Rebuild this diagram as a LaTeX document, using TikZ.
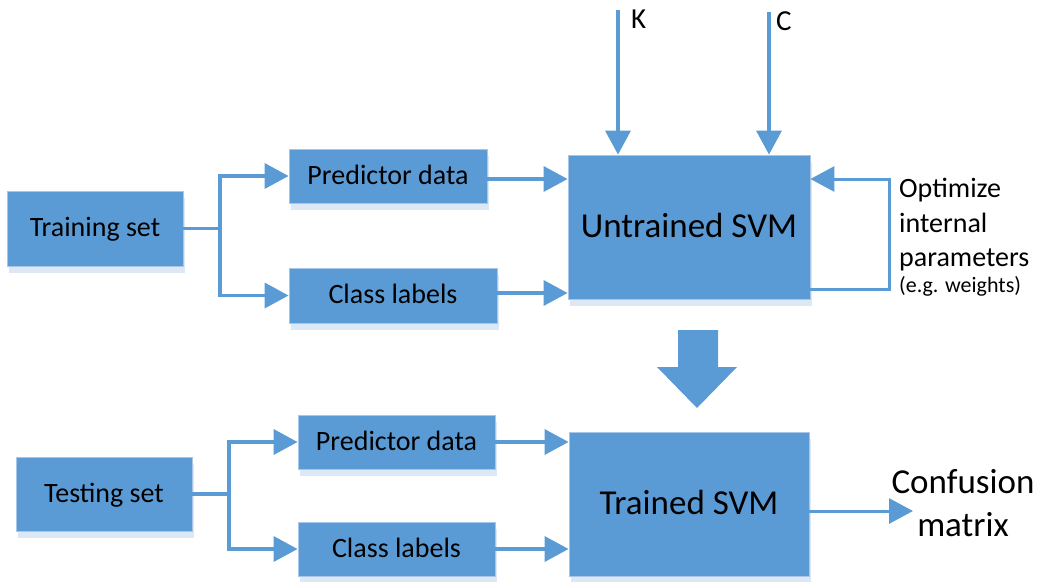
\documentclass[tikz,border=0pt]{standalone}
\usepackage{fontspec}
\setmainfont{Carlito}
\usetikzlibrary{arrows.meta,shadows}
\definecolor{boxblue}{HTML}{5B9BD5}
\definecolor{boxedge}{HTML}{A9C6E8}
\definecolor{shadowblue}{HTML}{DDE8F5}
\newcommand\fsz[1]{\fontsize{#1}{#1}\selectfont}
\begin{document}
\begin{tikzpicture}[x=1pt,y=-1pt,
  box/.style={rectangle, fill=boxblue, draw=boxedge, line width=0.8pt, inner sep=0pt,
    general shadow={fill=shadowblue, shadow xshift=2pt, shadow yshift=-7pt}},
  smallbox/.style={box, font=\fsz{28}, text height=17pt, text depth=1pt},
  bigbox/.style={box, font=\fsz{35}, text height=21.5pt, text depth=1.2pt},
  arr/.style={draw=boxblue, line width=3.5pt, -{Triangle[length=24pt,width=25pt]}},
  thinarr/.style={draw=boxblue, line width=3pt, -{Triangle[length=24pt,width=25pt]}},
  plain/.style={draw=boxblue, line width=3.5pt},
  lbl/.style={inner sep=0pt, anchor=base west}]
\useasboundingbox (0,0) rectangle (1041,581);
% boxes
\node[smallbox, minimum width=176pt, minimum height=75pt] (train) at (95,228.5) {Training set};
\node[smallbox, minimum width=198pt, minimum height=54pt] (tpred) at (388,176) {Predictor data};
\node[smallbox, minimum width=208pt, minimum height=55pt] (tclass) at (393,295.5) {Class labels};
\node[bigbox, minimum width=242pt, minimum height=144pt] (untr) at (689,227) {Untrained SVM};
\node[smallbox, minimum width=176pt, minimum height=74pt] (test) at (104,494) {Testing set};
\node[smallbox, minimum width=197pt, minimum height=54pt] (bpred) at (396.5,442) {Predictor data};
\node[smallbox, minimum width=197pt, minimum height=54pt] (bclass) at (396.5,549) {Class labels};
\node[bigbox, minimum width=240pt, minimum height=144pt] (trained) at (689,504) {Trained SVM};
% training connectors
\coordinate (tsplit) at (220,228.5);
\draw[plain] (train.east) -- (tsplit);
\draw[arr] (tsplit) |- (tpred.west);
\draw[arr] (tsplit) |- (tclass.west);
\draw[arr] ([yshift=-3pt]tpred.east) -- ([yshift=-3pt]tpred.east -| untr.west);
\draw[arr] ([yshift=2.5pt]tclass.east) -- ([yshift=2.5pt]tclass.east -| untr.west);
% testing connectors
\coordinate (bsplit) at (229,494);
\draw[plain] (test.east) -- (bsplit);
\draw[arr] (bsplit) |- (bpred.west);
\draw[arr] (bsplit) |- (bclass.west);
\draw[arr] (bpred.east) -- (bpred.east -| trained.west);
\draw[arr] (bclass.east) -- (bclass.east -| trained.west);
% K and C
\coordinate (kstart) at (618,10);
\coordinate (cstart) at (769,12);
\draw[arr] (kstart) -- (kstart |- untr.north);
\draw[arr] (cstart) -- (cstart |- untr.north);
\node[lbl, font=\fsz{29}] (klbl) at (631,28) {K};
\node[lbl, font=\fsz{29}] (clbl) at (776,30) {C};
% feedback loop
\draw[thinarr] ([yshift=-62pt]untr.east) -- ++(79,0) |- ([yshift=48pt]untr.east);
\node[lbl, font=\fsz{28}] (opt1) at (899,197) {Optimize};
\node[lbl, font=\fsz{28}] (opt2) at (899,232) {internal};
\node[lbl, font=\fsz{28}] (opt3) at (899,266) {parameters};
\node[lbl, font=\fsz{22}] (opt4) at (899,292) {(e.g. weights)};
% big arrow
\fill[boxblue] (678,330) -- (718,330) -- (718,367) -- (737,367) -- (697,408) -- (657,367) -- (678,367) -- cycle;
% confusion matrix
\coordinate (cmend) at (913,511);
\draw[thinarr] (trained.east |- cmend) -- (cmend);
\node[inner sep=0pt, anchor=base, font=\fsz{35}] (cm1) at (963,493) {Confusion};
\node[inner sep=0pt, anchor=base, font=\fsz{35}] (cm2) at (963,536) {matrix};
\end{tikzpicture}
\end{document}
